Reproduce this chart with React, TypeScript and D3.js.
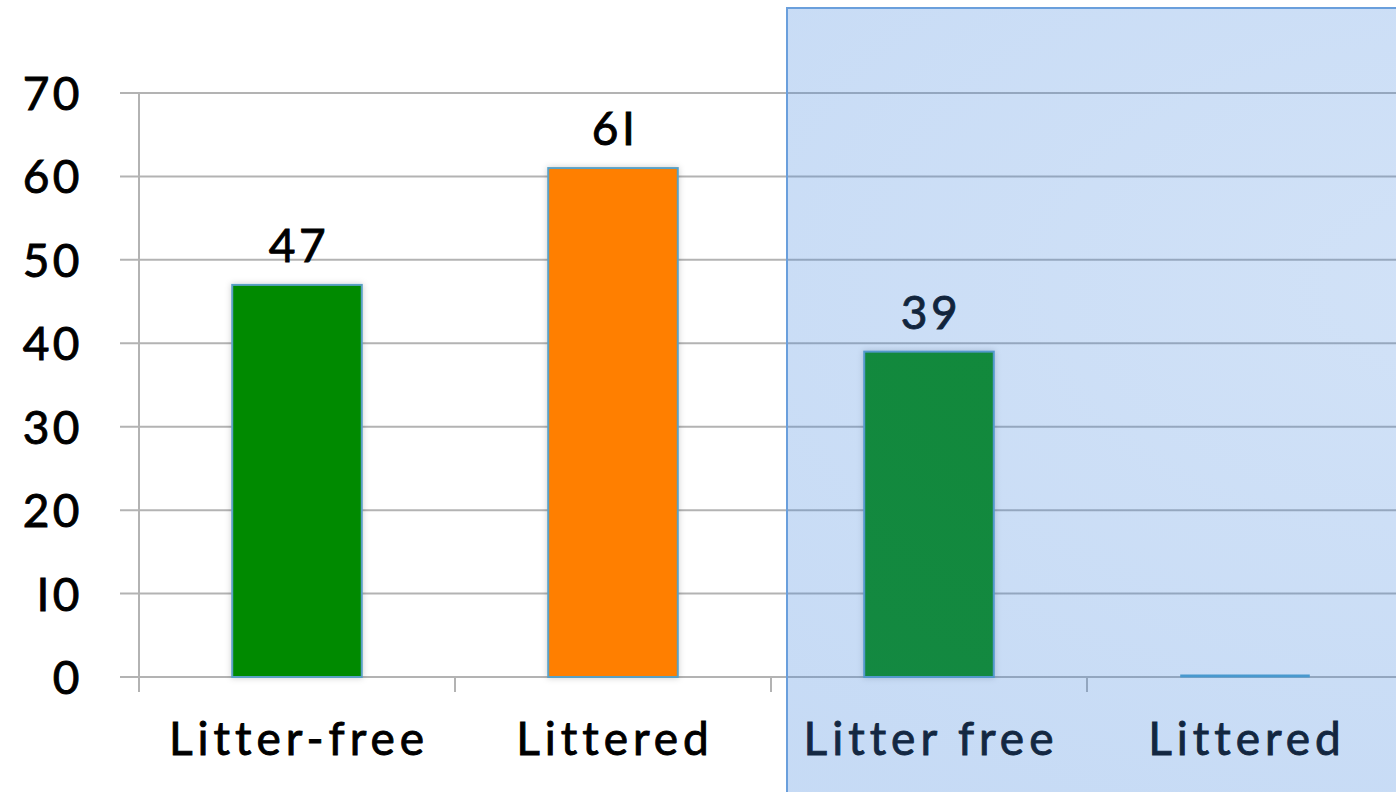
import React from "react";
import * as d3 from "d3";

const categories = ["Litter-free", "Littered", "Litter free", "Littered "];
const values = [47, 61, 39, 0];
const barColors = ["#008a00", "#ff7f00", "#008a00", "#008a00"];
const yTicks = [0, 10, 20, 30, 40, 50, 60, 70];

const W = 1396;
const H = 792;
const FONT = "Lato, 'Open Sans', sans-serif";

export default function App() {
  const x = d3.scaleBand<string>().domain(categories).range([139, 1403]).paddingInner(0).paddingOuter(0);
  const y = d3.scaleLinear().domain([0, 70]).range([677, 93]);
  const bw = x.bandwidth() * 0.41;
  const tickXs = categories.map((c) => x(c) as number);
  const textStyle = { fontFamily: FONT, fontSize: 46, fill: "#000", stroke: "#000", strokeWidth: 0.9 };

  return (
    <svg width={W} height={H} style={{ position: "absolute", left: 0, top: 0, background: "#fff" }}>
      <defs>
        <radialGradient id="panelGrad" cx="0.5" cy="0.35" r="0.75">
          <stop offset="0" stopColor="rgb(66,134,222)" stopOpacity={0.24} />
          <stop offset="1" stopColor="rgb(66,134,222)" stopOpacity={0.3} />
        </radialGradient>
        <filter id="shadow" x="-10%" y="-10%" width="120%" height="120%">
          <feDropShadow dx="0" dy="0" stdDeviation="3" floodColor="#000" floodOpacity="0.2" />
        </filter>
      </defs>
      {yTicks.map((t) => (
        <line key={"g" + t} x1={120} x2={W} y1={y(t)} y2={y(t)} stroke="#b3b3b3" strokeWidth={2} />
      ))}
      <line x1={139} x2={139} y1={y(70)} y2={y(0)} stroke="#b3b3b3" strokeWidth={2} />
      {tickXs.map((tx, i) => (
        <line key={"t" + i} x1={tx} x2={tx} y1={y(0)} y2={y(0) + 15} stroke="#b3b3b3" strokeWidth={2} />
      ))}
      {yTicks.map((t) => (
        <text key={"yl" + t} x={83} y={y(t) + 17} textAnchor="end" letterSpacing={3.5} {...textStyle}>
          {t === 10 ? "I0" : String(t)}
        </text>
      ))}
      {categories.map((c, i) => {
        const cx = (x(c) as number) + x.bandwidth() / 2;
        const top = y(values[i]);
        const h = y(0) - top;
        return (
          <g key={"b" + i}>
            {values[i] > 0 ? (
              <rect x={cx - bw / 2} y={top} width={bw} height={h} fill={barColors[i]} stroke="#5aa0c4" strokeWidth={2} filter="url(#shadow)" />
            ) : (
              <line x1={cx - bw / 2} x2={cx + bw / 2} y1={y(0) - 1} y2={y(0) - 1} stroke="#4aa0c8" strokeWidth={3} />
            )}
            {values[i] > 0 && (
              <text x={cx + 2} y={top - 23} textAnchor="middle" letterSpacing={3.5} {...textStyle}>
                {values[i] === 61 ? "6I" : String(values[i])}
              </text>
            )}
          </g>
        );
      })}
      {categories.map((c, i) => {
        const cx = (x(c) as number) + x.bandwidth() / 2;
        return (
          <text key={"xl" + i} x={cx + 2} y={755} textAnchor="middle" letterSpacing={5} {...textStyle}>
            {c.trim()}
          </text>
        );
      })}
      <rect x={787} y={8} width={W} height={H} fill="url(#panelGrad)" stroke="#6a9fdc" strokeWidth={2} />
    </svg>
  );
}
